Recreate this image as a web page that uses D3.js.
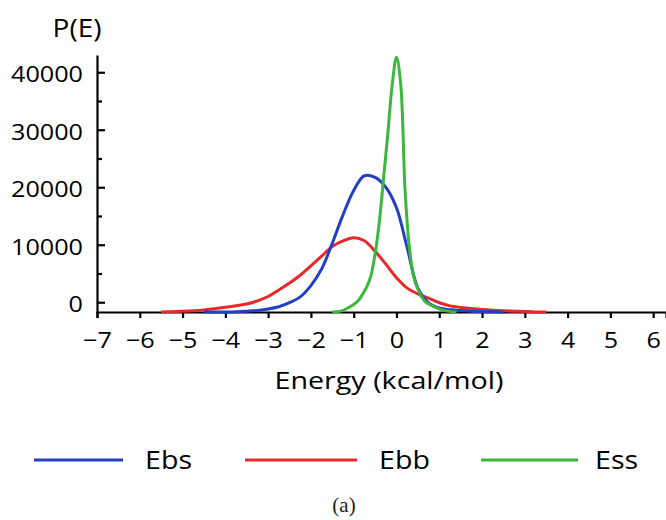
<!DOCTYPE html>
<html>
<head>
<meta charset="utf-8">
<script src="https://cdn.jsdelivr.net/npm/d3@7/dist/d3.min.js"></script>
<style>
  html, body { margin: 0; padding: 0; background: #fff; }
  svg { display: block; }
</style>
</head>
<body>
<svg id="chart" width="666" height="520"></svg>
<script>
// ---- data ----
const seriesNames = ["Ebs", "Ebb", "Ess"];
const seriesColors = ["#2240c4", "#e8292b", "#3cb63c"];

const ebsEnergy = [-4.5, -4.0, -3.75, -3.5, -3.25, -3.0, -2.75, -2.5, -2.25, -2.0, -1.75, -1.5, -1.25, -1.0, -0.75, -0.5, -0.25, 0, 0.25, 0.5, 0.75, 1.0, 1.25, 1.5, 1.75, 2.0, 2.25, 2.5];
const ebsValues = [-1700, -1690, -1650, -1560, -1420, -1180, -780, -80, 930, 2900, 5770, 10260, 15200, 19450, 22000, 21700, 20000, 16430, 9500, 2450, -100, -1000, -1300, -1450, -1560, -1630, -1670, -1700];

const ebbEnergy = [-5.5, -5.25, -5.0, -4.75, -4.5, -4.25, -4.0, -3.75, -3.5, -3.25, -3.0, -2.75, -2.5, -2.25, -2.0, -1.75, -1.5, -1.25, -1.0, -0.75, -0.5, -0.25, 0, 0.25, 0.5, 0.75, 1.0, 1.25, 1.5, 1.75, 2.0, 2.25, 2.5, 2.75, 3.0, 3.25, 3.5];
const ebbValues = [-1700, -1650, -1580, -1480, -1330, -1130, -880, -600, -300, 240, 1000, 2140, 3350, 4700, 6340, 8010, 9700, 10660, 11200, 10700, 8860, 6640, 4250, 2450, 1450, 700, -90, -630, -900, -1100, -1260, -1380, -1470, -1550, -1620, -1680, -1700];

const essEnergy = [-1.5, -1.4, -1.3, -1.2, -1.1, -1.0, -0.9, -0.8, -0.7, -0.6, -0.5, -0.4, -0.3, -0.2, -0.1, 0, 0.1, 0.2, 0.3, 0.4, 0.5, 0.6, 0.7, 0.8, 0.9, 1.0, 1.1, 1.2, 1.3, 1.4];
const essValues = [-1700, -1650, -1550, -1250, -850, -400, 200, 1300, 2600, 4550, 8400, 14000, 21700, 29500, 37800, 42600, 37800, 19600, 9600, 4500, 2300, 770, -90, -450, -870, -1150, -1400, -1550, -1650, -1700];

const xTickValues = [-7, -6, -5, -4, -3, -2, -1, 0, 1, 2, 3, 4, 5, 6];
const yTickValues = [0, 10000, 20000, 30000, 40000];
const yMinorTickValues = [5000, 15000, 25000, 35000];
const xDomain = [-7, 6.3];
const yDomain = [-1700, 43000];

// ---- layout ----
const svg = d3.select("#chart");
const plotLeft = 97, plotRight = 666, plotTop = 55, plotBottom = 312;
const FONT = "'Open Sans', 'Noto Sans', sans-serif";

const x = d3.scaleLinear().domain(xDomain).range([plotLeft, plotRight]);
const y = d3.scaleLinear().domain(yDomain).range([plotBottom, plotTop]);

// x axis
const xAxis = svg.append("g")
  .attr("transform", `translate(0,${plotBottom})`)
  .call(d3.axisBottom(x).tickValues(xTickValues).tickSize(6).tickPadding(14)
    .tickFormat(d => d < 0 ? "\u2212" + Math.abs(d) : String(d)));
xAxis.select(".domain").attr("stroke", "#000").attr("stroke-width", 2.2);
xAxis.selectAll(".tick line").attr("stroke", "#000").attr("stroke-width", 2.2);
xAxis.selectAll(".tick text")
  .attr("font-family", FONT).attr("font-size", 22.5).attr("fill", "#000")
  .attr("transform", "scale(1.12,1)");

// y axis (ticks pointing inward)
const yAxis = svg.append("g")
  .attr("transform", `translate(${plotLeft},0)`)
  .call(d3.axisLeft(y).tickValues(yTickValues).tickSizeInner(-8).tickSizeOuter(0).tickPadding(12.5)
    .tickFormat(d3.format("d")));
yAxis.select(".domain").attr("stroke", "#000").attr("stroke-width", 2.2);
yAxis.selectAll(".tick line").attr("stroke", "#000").attr("stroke-width", 2.2);
yAxis.selectAll(".tick text")
  .attr("font-family", FONT).attr("font-size", 22.5).attr("fill", "#000")
  .attr("dy", "0.42em")
  .attr("transform", "scale(1.12,1)");

// y minor ticks
svg.append("g")
  .attr("transform", `translate(${plotLeft},0)`)
  .call(d3.axisLeft(y).tickValues(yMinorTickValues).tickSizeInner(-5).tickSizeOuter(0).tickFormat(""))
  .call(g => g.select(".domain").remove())
  .selectAll(".tick line").attr("stroke", "#000").attr("stroke-width", 2.2);

// axis titles
svg.append("text")
  .attr("transform", "translate(389,389) scale(1.22,1)")
  .attr("text-anchor", "middle")
  .attr("font-family", FONT).attr("font-size", 23.5).attr("fill", "#000")
  .text("Energy (kcal/mol)");

svg.append("text")
  .attr("transform", "translate(77,37) scale(1.12,1)")
  .attr("text-anchor", "middle")
  .attr("font-family", FONT).attr("font-size", 25).attr("fill", "#000")
  .text("P(E)");

// curves
const series = [
  { name: seriesNames[0], color: seriesColors[0], xs: ebsEnergy, ys: ebsValues },
  { name: seriesNames[1], color: seriesColors[1], xs: ebbEnergy, ys: ebbValues },
  { name: seriesNames[2], color: seriesColors[2], xs: essEnergy, ys: essValues }
];
const line = d3.line().x(d => x(d[0])).y(d => y(d[1])).curve(d3.curveCatmullRom.alpha(0.5));
const drawOrder = [1, 0, 2];
drawOrder.forEach(i => {
  const s = series[i];
  svg.append("path")
    .datum(s.xs.map((e, k) => [e, s.ys[k]]))
    .attr("fill", "none")
    .attr("stroke", s.color)
    .attr("stroke-width", 3)
    .attr("stroke-linejoin", "round")
    .attr("d", line);
});

// legend
const legendY = 460;
const legendItems = [
  { x1: 34, x2: 123, tx: 145 },
  { x1: 245, x2: 357, tx: 379 },
  { x1: 481, x2: 578, tx: 595 }
];
legendItems.forEach((p, i) => {
  svg.append("line")
    .attr("x1", p.x1).attr("x2", p.x2).attr("y1", legendY).attr("y2", legendY)
    .attr("stroke", seriesColors[i]).attr("stroke-width", 3);
  svg.append("text")
    .attr("transform", `translate(${p.tx},${legendY + 9}) scale(1.1,1)`)
    .attr("font-family", FONT).attr("font-size", 26).attr("fill", "#000")
    .text(seriesNames[i]);
});

// caption
svg.append("text")
  .attr("x", 344).attr("y", 512)
  .attr("text-anchor", "middle")
  .attr("font-family", "'Liberation Serif', 'DejaVu Serif', serif").attr("font-size", 21).attr("fill", "#222")
  .text("(a)");
</script>
</body>
</html>
